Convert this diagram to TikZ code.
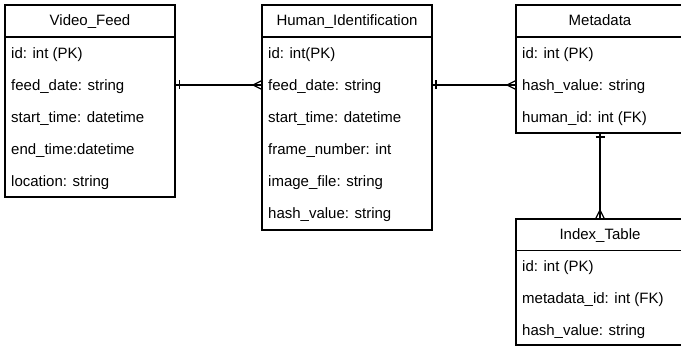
\documentclass[tikz,border=0pt]{standalone}
\usepackage{fontspec}
\setmainfont{Liberation Sans}
\usetikzlibrary{calc}
\begin{document}
\begin{tikzpicture}[x=1pt,y=-1pt,
  tbl/.style={draw, line width=1.7pt, anchor=north west, inner sep=0pt, outer sep=0pt},
  hdr/.style={font=\fontsize{15}{18}\selectfont, anchor=base, inner sep=0pt},
  fld/.style={font=\fontsize{15}{18}\selectfont, anchor=base west, inner sep=0pt},
  sep/.style={line width=1.7pt},
  rel/.style={line width=1.7pt},
  onetick/.pic={\draw[line width=1.3pt] (0,-4.5) -- (0,4.5);},
  manyfoot/.pic={\draw[line width=1.3pt] (-9,0) -- (0,-4.5) (-9,0) -- (0,4.5);}
]
\useasboundingbox (0,0) rectangle (681,347);

% ---- Video_Feed ----
\node[tbl, minimum width=170pt, minimum height=192pt] (vf) at (5,5) {};
\node[hdr] (vfh) at (90,26) {Video\_Feed};
\draw[sep] (5,37) -- (175,37);
\node[fld] (vf1) at (11,58.5)  {id: int (PK)};
\node[fld] (vf2) at (11,90.5)  {feed\_date: string};
\node[fld] (vf3) at (11,122.5) {start\_time: datetime};
\node[fld] (vf4) at (11,154.5) {end\_time:datetime};
\node[fld] (vf5) at (11,186.5) {location: string};

% ---- Human_Identification ----
\node[tbl, minimum width=170pt, minimum height=225pt] (hi) at (262,5) {};
\node[hdr] (hih) at (347,26) {Human\_Identification};
\draw[sep] (262,37) -- (432,37);
\node[fld] (hi1) at (268,58.5)  {id: int(PK)};
\node[fld] (hi2) at (268,90.5)  {feed\_date: string};
\node[fld] (hi3) at (268,122.5) {start\_time: datetime};
\node[fld] (hi4) at (268,154.5) {frame\_number: int};
\node[fld] (hi5) at (268,186.5) {image\_file: string};
\node[fld] (hi6) at (268,218.5) {hash\_value: string};

% ---- Metadata ----
\node[tbl, minimum width=168pt, minimum height=128pt] (md) at (516,5) {};
\node[hdr] (mdh) at (600,26) {Metadata};
\draw[sep] (516,37) -- (684,37);
\node[fld] (md1) at (522,58.5)  {id: int (PK)};
\node[fld] (md2) at (522,90.5)  {hash\_value: string};
\node[fld] (md3) at (522,122.5) {human\_id: int (FK)};

% ---- Index_Table ----
\node[tbl, minimum width=168pt, minimum height=126pt] (it) at (516,219) {};
\node[hdr] (ith) at (600,240) {Index\_Table};
\draw[sep] (516,250.5) -- (684,250.5);
\node[fld] (it1) at (522,272)  {id: int (PK)};
\node[fld] (it2) at (522,304)  {metadata\_id: int (FK)};
\node[fld] (it3) at (522,336)  {hash\_value: string};

% ---- Relationships ----
\coordinate (vfout) at ($(vf.north east)+(0,80)$);
\coordinate (hiin)  at ($(hi.north west)+(0,80)$);
\coordinate (hiout) at ($(hi.north east)+(0,80)$);
\coordinate (mdin)  at ($(md.north west)+(0,80)$);

\draw[rel] (vfout) -- (hiin);
\pic at ($(vfout)+(4.5,0)$) {onetick};
\pic at (hiin) {manyfoot};

\draw[rel] (hiout) -- (mdin);
\pic at ($(hiout)+(4,0)$) {onetick};
\pic at (mdin) {manyfoot};

\draw[rel] (md.south) -- (it.north);
\pic[rotate=90] at ($(md.south)+(0,4)$) {onetick};
\pic[rotate=-90] at (it.north) {manyfoot};
\end{tikzpicture}
\end{document}
